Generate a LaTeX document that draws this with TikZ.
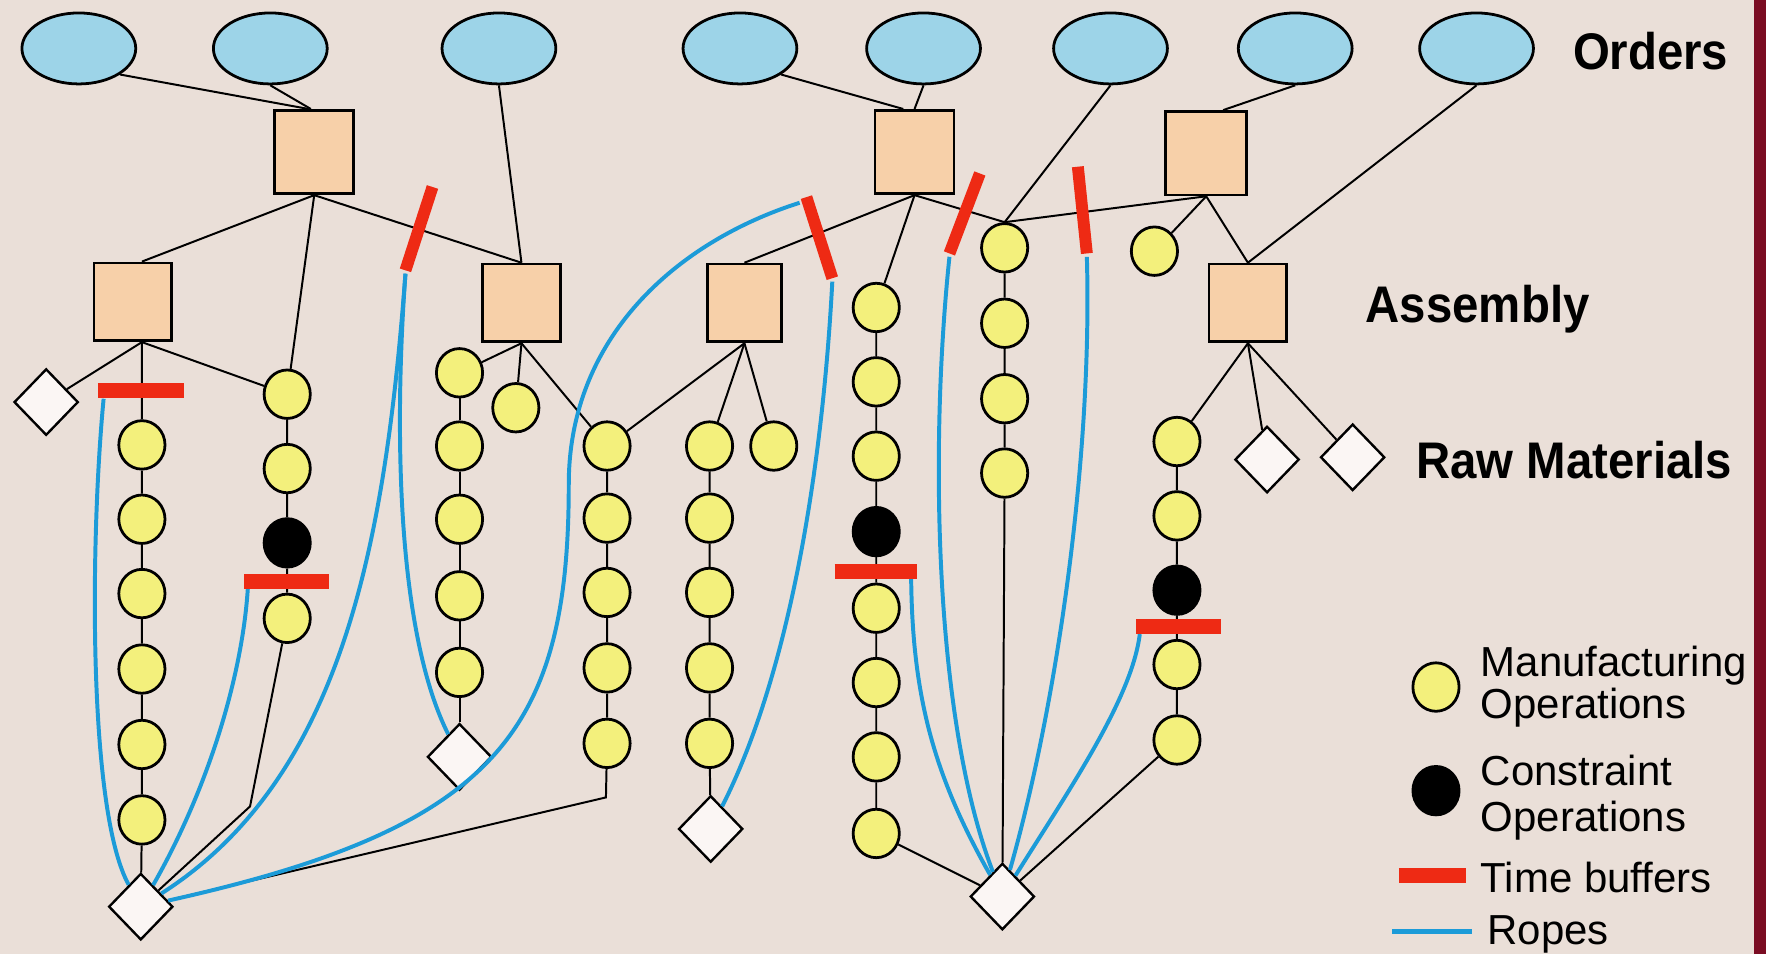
\documentclass[tikz,border=0pt]{standalone}
\usepackage{fontspec}
\setmainfont{Liberation Sans}
\usetikzlibrary{shapes.geometric}
\definecolor{bgc}{HTML}{EADFD8}
\definecolor{ordc}{HTML}{9DD4E8}
\definecolor{asmc}{HTML}{F7D0A9}
\definecolor{opc}{HTML}{F3F07C}
\definecolor{rawc}{HTML}{FBF6F4}
\definecolor{bufc}{HTML}{EE2A14}
\definecolor{ropec}{HTML}{1C9BD8}
\definecolor{edgec}{HTML}{7A0C22}
\begin{document}
\begin{tikzpicture}[x=0.01cm,y=-0.01cm,
  order/.style={ellipse, draw=black, line width=0.7pt, fill=ordc, minimum width=10.1mm, minimum height=6.3mm, inner sep=0pt},
  asm/.style={rectangle, draw=black, line width=0.7pt, fill=asmc, minimum width=7mm, minimum height=7.4mm, inner sep=0pt},
  asmlow/.style={asm, minimum width=6.9mm, minimum height=6.9mm},
  op/.style={ellipse, draw=black, line width=0.7pt, fill=opc, minimum width=4.1mm, minimum height=4.3mm, inner sep=0pt},
  cop/.style={op, fill=black},
  raw/.style={diamond, draw=black, line width=0.6pt, fill=rawc, minimum width=5.7mm, minimum height=5.9mm, inner sep=0pt},
  link/.style={draw=black, line width=0.5pt},
  rope/.style={draw=ropec, line width=1pt},
  hbuf/.style={draw=bufc, line width=3.8pt},
  sbuf/.style={draw=bufc, line width=3pt},
  lbl/.style={anchor=base west, inner sep=0pt, font=\fontsize{13}{13}\selectfont\bfseries, xscale=0.92},
  leg/.style={anchor=base west, inner sep=0pt, font=\fontsize{10.6}{10.6}\selectfont}]
\fill[bgc] (0,0) rectangle (1568,847);
\fill[edgec] (1557,0) rectangle (1568,847);
\useasboundingbox (0,0) rectangle (1568,847);

% Orders
\node[order] (E1) at (70,43) {};
\node[order] (E2) at (240,43) {};
\node[order] (E3) at (443,43) {};
\node[order] (E4) at (657,43) {};
\node[order] (E5) at (820,43) {};
\node[order] (E6) at (986,43) {};
\node[order] (E7) at (1150,43) {};
\node[order] (E8) at (1311,43) {};

% Assembly
\node[asm] (A1) at (279,135) {};
\node[asmlow] (A2) at (118,268) {};
\node[asmlow] (A3) at (463,269) {};
\node[asm] (A4) at (812,135) {};
\node[asmlow, minimum width=6.6mm] (A5) at (661,269) {};
\node[asm, minimum width=7.2mm] (A6) at (1071,136) {};
\node[asmlow] (A7) at (1108,269) {};

% Operations
\foreach \y [count=\i] in {395,461,527,594,661,728} \node[op] (cA\i) at (126,\y) {};
\node[op] (cB1) at (255,350) {};
\node[op] (cB2) at (255,416) {};
\node[cop] (cB3) at (255,482) {};
\node[op] (cB4) at (255,549) {};
\foreach \y [count=\i] in {331,396,461,529,597} \node[op] (cD\i) at (408,\y) {};
\node[op] (cX) at (458,362) {};
\foreach \y [count=\i] in {396,460,526,593,660} \node[op] (cF\i) at (539,\y) {};
\foreach \y [count=\i] in {396,460,526,593,660} \node[op] (cE\i) at (630,\y) {};
\node[op] (cY) at (687,396) {};
\node[op] (cG1) at (778,273) {};
\node[op] (cG2) at (778,339) {};
\node[op] (cG3) at (778,405) {};
\node[cop] (cG4) at (778,472) {};
\node[op] (cG5) at (778,540) {};
\node[op] (cG6) at (778,606) {};
\node[op] (cG7) at (778,672) {};
\node[op] (cG8) at (778,740) {};
\foreach \y [count=\i] in {220,287,354,420} \node[op] (cH\i) at (892,\y) {};
\node[op] (cK) at (1025,223) {};
\node[op] (cI1) at (1045,392) {};
\node[op] (cI2) at (1045,458) {};
\node[cop] (cI3) at (1045,524) {};
\node[op] (cI4) at (1045,590) {};
\node[op] (cI5) at (1045,657) {};

% Raw materials
\node[raw] (dL) at (41,357) {};
\node[raw] (dBL) at (125,805) {};
\node[raw] (dD) at (408,672) {};
\node[raw] (dE) at (631,736) {};
\node[raw] (dBR) at (890,796) {};
\node[raw] (dR1) at (1125,408) {};
\node[raw] (dR2) at (1201,406) {};

% helper coordinates
\coordinate (bk1) at (222,716);
\coordinate (bk2) at (538,708);
\coordinate (bAl) at (87,347); \coordinate (bAr) at (163,347);
\coordinate (bBl) at (217,516); \coordinate (bBr) at (292,516);
\coordinate (bGl) at (741,507); \coordinate (bGr) at (814,507);
\coordinate (bIl) at (1009,556); \coordinate (bIr) at (1084,556);
\coordinate (s1a) at (384,166); \coordinate (s1b) at (360,240);
\coordinate (s2a) at (716,175); \coordinate (s2b) at (739,247);
\coordinate (s3a) at (870,154); \coordinate (s3b) at (843,225);
\coordinate (s4a) at (957,148); \coordinate (s4b) at (965,225);
\coordinate (rA) at (92,354);
\coordinate (rB) at (220,523);
\coordinate (r1) at (360,243);
\coordinate (r2a) at (710,180);
\coordinate (r2m) at (505,430);
\coordinate (r2b) at (739,250);
\coordinate (r3) at (843,228);
\coordinate (r4) at (965,228);
\coordinate (rG) at (809,513);
\coordinate (rI) at (1012,563);

% links
\draw[link] (E1.south east) -- ([xshift=-0.5mm]A1.north);
\draw[link] (E2.south) -- ([xshift=-0.3mm]A1.north);
\draw[link] (E3.south) -- (A3.north);
\draw[link] (E4.south east) -- ([xshift=-1mm]A4.north);
\draw[link] (E5.south) -- (A4.north);
\draw[link] (E6.south) -- (cH1.north);
\draw[link] (E7.south) -- ([xshift=1.5mm]A6.north);
\draw[link] (E8.south) -- (A7.north);

\draw[link] (A1.south) -- (A2.north -| cA1);
\draw[link] (A1.south) -- (cB1);
\draw[link] (A1.south) -- (A3.north);
\draw[link] (A2.south -| cA1) -- (dL);
\draw[link] (A2.south -| cA1) -- (cB1);
\draw[link] (A2.south -| cA1) -- (cA1) -- (cA2) -- (cA3) -- (cA4) -- (cA5) -- (cA6) -- (dBL);
\draw[link] (cB1) -- (cB2) -- (cB3) -- (cB4) -- (bk1) -- (dBL);
\draw[link] (A3.south) -- (cD1);
\draw[link] (A3.south) -- (cX);
\draw[link] (A3.south) -- (cF1);
\draw[link] (cD1) -- (cD2) -- (cD3) -- (cD4) -- (cD5) -- (dD);
\draw[link] (A5.south) -- (cF1);
\draw[link] (A5.south) -- (cE1);
\draw[link] (A5.south) -- (cY);
\draw[link] (cF1) -- (cF2) -- (cF3) -- (cF4) -- (cF5) -- (bk2) -- (dBL);
\draw[link] (cE1) -- (cE2) -- (cE3) -- (cE4) -- (cE5) -- (dE);
\draw[link] (A4.south) -- (A5.north);
\draw[link] (A4.south) -- (cG1);
\draw[link] (A4.south) -- (cH1.north);
\draw[link] (cG1) -- (cG2) -- (cG3) -- (cG4) -- (cG5) -- (cG6) -- (cG7) -- (cG8) -- (dBR);
\draw[link] (cH1) -- (cH2) -- (cH3) -- (cH4) -- (dBR);
\draw[link] (A6.south) -- (cH1.north);
\draw[link] (A6.south) -- (cK);
\draw[link] (A6.south) -- (A7.north);
\draw[link] (A7.south) -- (cI1);
\draw[link] (A7.south) -- (dR1);
\draw[link] (A7.south) -- (dR2);
\draw[link] (cI1) -- (cI2) -- (cI3) -- (cI4) -- (cI5) -- (dBR);

% ropes
\draw[rope] (rA) .. controls (80,480) and (78,720) .. (dBL);
\draw[rope] (rB) .. controls (215,600) and (185,700) .. (dBL);
\draw[rope] (r1) .. controls (342,480) and (305,690) .. (dBL);
\draw[rope] (r1) .. controls (350,380) and (352,560) .. (dD);
\draw[rope] (r2a) .. controls (600,215) and (505,300) .. (r2m) .. controls (505,650) and (440,735) .. (dBL);
\draw[rope] (r2b) .. controls (730,420) and (700,600) .. (dE);
\draw[rope] (r3) .. controls (825,400) and (830,640) .. (dBR);
\draw[rope] (r4) .. controls (970,400) and (940,620) .. (dBR);
\draw[rope] (rG) .. controls (810,620) and (830,690) .. (dBR);
\draw[rope] (rI) .. controls (1005,620) and (950,700) .. (dBR);

% buffers
\draw[hbuf] (bAl) -- (bAr);
\draw[hbuf] (bBl) -- (bBr);
\draw[hbuf] (bGl) -- (bGr);
\draw[hbuf] (bIl) -- (bIr);
\draw[sbuf] (s1a) -- (s1b);
\draw[sbuf] (s2a) -- (s2b);
\draw[sbuf] (s3a) -- (s3b);
\draw[sbuf] (s4a) -- (s4b);

% labels
\node[lbl] (lo) at (1396,62) {Orders};
\node[lbl] (la) at (1212,286) {Assembly};
\node[lbl] (lr) at (1257,425) {Raw Materials};

% legend
\node[op] (lgop) at (1275,610) {};
\node[cop] (lgcop) at (1275,702) {};
\coordinate (lgb1) at (1242,777); \coordinate (lgb2) at (1302,777);
\draw[hbuf] (lgb1) -- (lgb2);
\coordinate (lgr1) at (1236,827); \coordinate (lgr2) at (1307,827);
\draw[rope, line width=1.2pt] (lgr1) -- (lgr2);
\node[leg] (t1) at (1314,601) {Manufacturing};
\node[leg] (t2) at (1314,638) {Operations};
\node[leg] (t3) at (1314,697) {Constraint};
\node[leg] (t4) at (1314,738) {Operations};
\node[leg] (t5) at (1314,792) {Time buffers};
\node[leg] (t6) at (1320,839) {Ropes};
\end{tikzpicture}
\end{document}
